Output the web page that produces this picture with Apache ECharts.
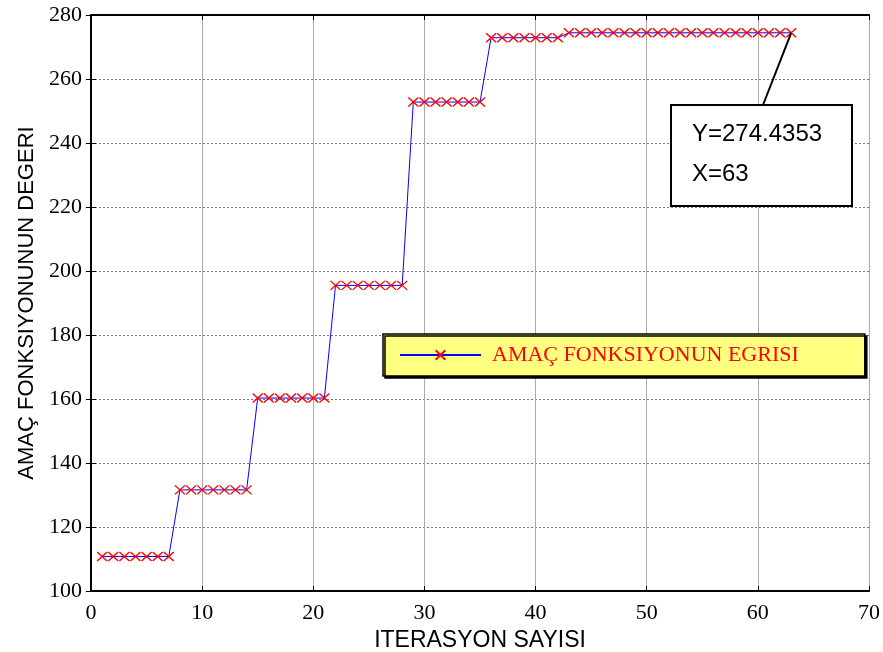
<!DOCTYPE html>
<html>
<head>
<meta charset="utf-8">
<script src="https://cdn.jsdelivr.net/npm/echarts@6/dist/echarts.min.js"></script>
<style>
body { margin: 0; background: #fff; }
#main { width: 883px; height: 652px; }
</style>
</head>
<body>
<div id="main"></div>
<script>
var myChart = echarts.init(document.getElementById('main'));

// iterasyon numaralari
var iterasyon = [1, 2, 3, 4, 5, 6, 7, 8, 9, 10, 11, 12, 13, 14, 15, 16, 17, 18, 19, 20, 21,
    22, 23, 24, 25, 26, 27, 28, 29, 30, 31, 32, 33, 34, 35, 36, 37, 38, 39, 40, 41, 42,
    43, 44, 45, 46, 47, 48, 49, 50, 51, 52, 53, 54, 55, 56, 57, 58, 59, 60, 61, 62, 63];
// amac fonksiyonu degerleri
var deger = [110.8, 110.8, 110.8, 110.8, 110.8, 110.8, 110.8,
    131.6, 131.6, 131.6, 131.6, 131.6, 131.6, 131.6,
    160.3, 160.3, 160.3, 160.3, 160.3, 160.3, 160.3,
    195.5, 195.5, 195.5, 195.5, 195.5, 195.5, 195.5,
    252.8, 252.8, 252.8, 252.8, 252.8, 252.8, 252.8,
    272.9, 272.9, 272.9, 272.9, 272.9, 272.9, 272.9,
    274.4353, 274.4353, 274.4353, 274.4353, 274.4353, 274.4353, 274.4353,
    274.4353, 274.4353, 274.4353, 274.4353, 274.4353, 274.4353, 274.4353,
    274.4353, 274.4353, 274.4353, 274.4353, 274.4353, 274.4353, 274.4353];
var secilenX = 63;
var secilenY = 274.4353;

var seriData = [];
for (var i = 0; i < iterasyon.length; i++) {
    seriData.push([iterasyon[i], deger[i]]);
}

var carpi = 'path://M0,0L10,10M10,0L0,10';
var labelFont = {color: '#000', fontFamily: 'Liberation Serif', fontSize: 22};

var option = {
    animation: false,
    grid: {left: 91, right: 14, top: 15, bottom: 61, outerBoundsMode: 'none'},
    legend: {
        left: 383,
        top: 334,
        padding: [10, 66, 10, 16],
        itemWidth: 81,
        itemHeight: 12,
        backgroundColor: '#ffff80',
        borderColor: '#000',
        borderWidth: 1.5,
        borderRadius: 0,
        shadowColor: '#000',
        shadowOffsetX: 2,
        shadowOffsetY: 2,
        shadowBlur: 0,
        textStyle: {color: '#ff0000', fontFamily: 'Liberation Serif', fontSize: 22, padding: [0, 0, 0, 6]},
        data: ['AMAÇ FONKSIYONUN EGRISI']
    },
    xAxis: [{
        type: 'value',
        min: 0, max: 70, interval: 10,
        name: 'ITERASYON SAYISI',
        nameLocation: 'middle',
        nameGap: 32,
        nameTextStyle: {color: '#000', fontFamily: 'Liberation Sans', fontSize: 23},
        axisLine: {lineStyle: {color: '#000', width: 2}},
        axisTick: {inside: true, length: 5, lineStyle: {color: '#000'}},
        axisLabel: Object.assign({margin: 11}, labelFont),
        splitLine: {show: true, lineStyle: {color: '#aaa', width: 1}}
    }, {
        type: 'value', position: 'top',
        min: 0, max: 70, interval: 10,
        axisLine: {show: true, lineStyle: {color: '#000', width: 2}},
        axisTick: {show: true, inside: true, length: 5, lineStyle: {color: '#000'}},
        axisLabel: {show: false},
        splitLine: {show: false}
    }],
    yAxis: [{
        type: 'value',
        min: 100, max: 280, interval: 20,
        name: 'AMAÇ FONKSIYONUNUN DEGERI',
        nameLocation: 'middle',
        nameGap: 53,
        nameTextStyle: {color: '#000', fontFamily: 'Liberation Sans', fontSize: 22},
        axisLine: {show: true, lineStyle: {color: '#000', width: 2}},
        axisTick: {show: true, inside: true, length: 5, lineStyle: {color: '#000'}},
        axisLabel: Object.assign({margin: 9}, labelFont),
        splitLine: {show: true, lineStyle: {color: '#777', width: 1, type: [2, 2]}}
    }, {
        type: 'value', position: 'right',
        min: 100, max: 280, interval: 20,
        axisLine: {show: true, lineStyle: {color: '#000', width: 2}},
        axisTick: {show: true, inside: true, length: 5, lineStyle: {color: '#000'}},
        axisLabel: {show: false},
        splitLine: {show: false}
    }],
    series: [{
        name: 'AMAÇ FONKSIYONUN EGRISI',
        type: 'line',
        data: seriData,
        symbol: carpi,
        symbolSize: [10, 9],
        showAllSymbol: true,
        itemStyle: {color: 'none', borderColor: '#ff0000', borderWidth: 1.3},
        lineStyle: {color: '#0000ff', width: 1},
        z: 3
    }]
};
myChart.setOption(option);

// veri imleci kutusu
var p = myChart.convertToPixel({gridIndex: 0}, [secilenX, secilenY]);
myChart.setOption({
    graphic: [{
        type: 'line',
        shape: {x1: 763, y1: 105, x2: p[0], y2: p[1]},
        style: {stroke: '#000', lineWidth: 2},
        z: 100
    }, {
        type: 'rect',
        shape: {x: 671, y: 105, width: 181, height: 101},
        style: {fill: '#fff', stroke: '#000', lineWidth: 2},
        z: 100
    }, {
        type: 'text',
        left: 692, top: 122,
        style: {text: 'Y=274.4353', fill: '#000', font: '24px "Liberation Sans"'},
        z: 101
    }, {
        type: 'text',
        left: 692, top: 162,
        style: {text: 'X=63', fill: '#000', font: '24px "Liberation Sans"'},
        z: 101
    }]
});
</script>
</body>
</html>
